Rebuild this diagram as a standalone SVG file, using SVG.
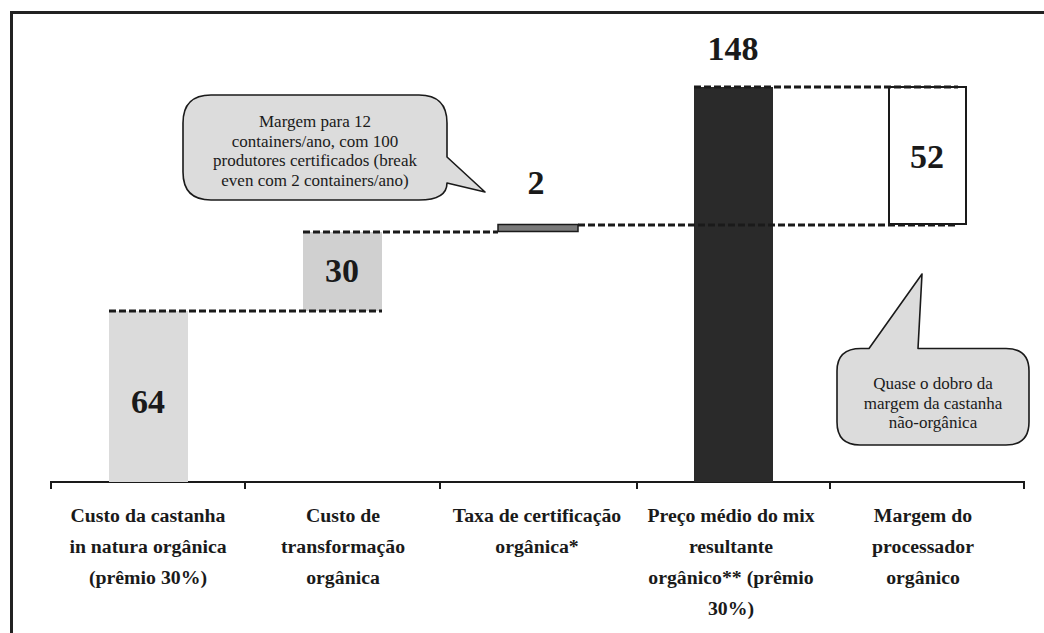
<svg xmlns="http://www.w3.org/2000/svg" width="1044" height="633" viewBox="0 0 1044 633">
<style>
.num{font-family:"Liberation Serif","Times New Roman",serif;font-weight:bold;font-size:34px;fill:#1a1a1a;text-anchor:middle}
.cat{font-family:"Liberation Serif","Times New Roman",serif;font-weight:bold;font-size:19.8px;fill:#1a1a1a;text-anchor:middle}
.note{font-family:"Liberation Serif","Times New Roman",serif;font-size:17px;fill:#1a1a1a;text-anchor:middle}
.dash{stroke:#1a1a1a;stroke-width:2.8;stroke-dasharray:7 3;fill:none}
.bubble{fill:#dcdcdc;stroke:#1a1a1a;stroke-width:1.6;stroke-linejoin:round}
</style>
<rect width="1044" height="633" fill="#ffffff"/>
<g id="frame">
<path d="M11.5 633 V12.5 H1044" fill="none" stroke="#222" stroke-width="3"/>
</g>
<g id="axis">
<path d="M51 489 V482 H1024 V489 M245 482 V489 M440 482 V489 M637 482 V489 M830 482 V489" fill="none" stroke="#1a1a1a" stroke-width="2"/>
</g>
<g id="bar-castanha">
<rect x="109" y="311" width="79" height="171" fill="#dbdbdb"/>
<text class="num" x="148" y="413">64</text>
</g>
<g id="bar-transformacao">
<rect x="303" y="232" width="79" height="79" fill="#d0d0d0"/>
<text class="num" x="342" y="282">30</text>
</g>
<g id="bar-certificacao">
<rect x="498" y="224.5" width="80" height="7" fill="#7a7a7a" stroke="#1a1a1a" stroke-width="1.5"/>
<text class="num" x="536" y="194">2</text>
</g>
<g id="bar-preco">
<rect x="694" y="87" width="79" height="395" fill="#2a2a2a"/>
<text class="num" x="733" y="60">148</text>
</g>
<g id="bar-margem">
<rect x="889" y="87" width="77" height="137" fill="#ffffff" stroke="#1a1a1a" stroke-width="2"/>
<text class="num" x="927" y="168">52</text>
</g>
<g id="connectors">
<line class="dash" x1="109" y1="311" x2="382" y2="311"/>
<line class="dash" x1="303" y1="232" x2="498" y2="232"/>
<line class="dash" x1="578" y1="225" x2="958" y2="225"/>
<line class="dash" x1="694" y1="87" x2="958" y2="87"/>
</g>
<g id="callout-margem12">
<path class="bubble" d="M211 95 H419 Q447 95 447 123 V157 L485 192 L447 183 Q447 200 419 200 H211 Q183 200 183 172 V123 Q183 95 211 95 Z"/>
<text class="note" x="315" y="127">Margem para 12</text>
<text class="note" x="315" y="146.5">containers/ano, com 100</text>
<text class="note" x="315" y="166">produtores certificados (break</text>
<text class="note" x="315" y="185.5">even com 2 containers/ano)</text>
</g>
<g id="callout-dobro">
<path class="bubble" d="M861 348.5 H869 L922 274 L918 348.5 H1006 Q1029 348.5 1029 371 V422 Q1029 445 1006 445 H860 Q837 445 837 422 V371 Q837 348.5 861 348.5 Z"/>
<text class="note" x="933" y="389">Quase o dobro da</text>
<text class="note" x="933" y="408.5">margem da castanha</text>
<text class="note" x="933" y="428">não-orgânica</text>
</g>
<g id="labels">
<text class="cat" x="148" y="522">Custo da castanha</text>
<text class="cat" x="148" y="553">in natura orgânica</text>
<text class="cat" x="148" y="584">(prêmio 30%)</text>
<text class="cat" x="343" y="522">Custo de</text>
<text class="cat" x="343" y="553">transformação</text>
<text class="cat" x="343" y="584">orgânica</text>
<text class="cat" x="537" y="522">Taxa de certificação</text>
<text class="cat" x="537" y="553">orgânica*</text>
<text class="cat" x="731" y="522">Preço médio do mix</text>
<text class="cat" x="731" y="553">resultante</text>
<text class="cat" x="731" y="584">orgânico** (prêmio</text>
<text class="cat" x="731" y="615">30%)</text>
<text class="cat" x="923" y="522">Margem do</text>
<text class="cat" x="923" y="553">processador</text>
<text class="cat" x="923" y="584">orgânico</text>
</g>
</svg>
